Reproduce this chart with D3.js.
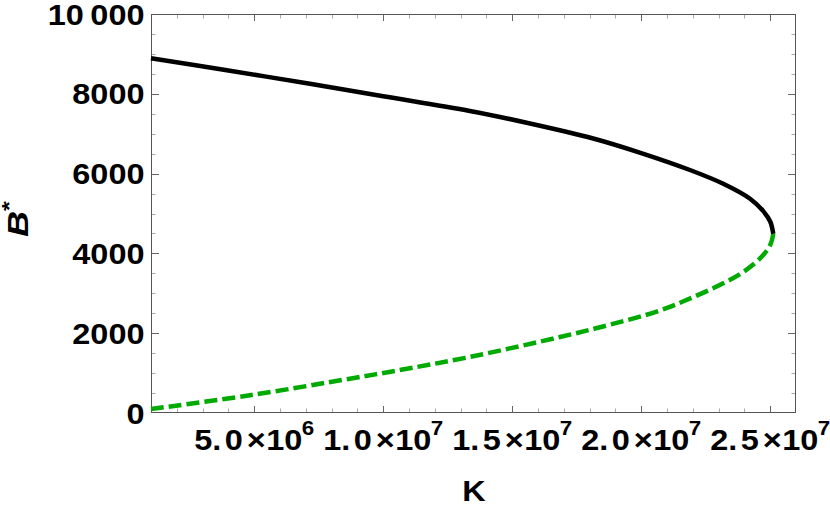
<!DOCTYPE html>
<html>
<head>
<meta charset="utf-8">
<script src="https://cdn.jsdelivr.net/npm/d3@7"></script>
<style>
  html, body { margin: 0; padding: 0; background: #fff; }
  svg { display: block; }
  text { font-family: "Liberation Sans", Arial, sans-serif; font-weight: bold; fill: #000; }
</style>
</head>
<body>
<svg id="chart" width="830" height="505"></svg>
<script>
// ---------- data ----------
// Upper (stable) branch: K values and equilibrium B*
const upperK = [1.0e6, 4.0e6, 7.16e6, 10.0e6, 13.36e6, 15.56e6, 18.14e6, 20.0e6, 21.89e6, 23.18e6, 24.22e6, 24.73e6, 25.0e6, 25.12e6];
const upperB = [8890, 8585, 8250, 7940, 7570, 7275, 6880, 6515, 6090, 5745, 5370, 5060, 4800, 4490];
// Lower (unstable) branch, from the fold point back to small K
const lowerK = [25.12e6, 25.0e6, 24.73e6, 24.34e6, 23.83e6, 23.18e6, 22.0e6, 20.73e6, 18.8e6, 16.85e6, 13.36e6, 10.5e6, 8.71e6, 4.84e6, 1.0e6];
const lowerB = [4490, 4210, 3960, 3720, 3480, 3250, 2900, 2570, 2215, 1905, 1405, 1060, 860, 445, 100];

const xMajorTicks = [5e6, 1e7, 1.5e7, 2e7, 2.5e7];
const xMinorTicks = d3.range(2e6, 2.6e7, 1e6);
const yMajorTicks = [0, 2000, 4000, 6000, 8000, 10000];
const yTickLabels = ["0", "2000", "4000", "6000", "8000", "10\u2009000"];
const yMinorTicks = d3.range(0, 10001, 500);
const xTitle = "K";
const yTitle = "B";
const yTitleSup = "*";

// ---------- layout ----------
const L = 151, R = 796, T = 14, B = 413;
const svg = d3.select("#chart");

const x = d3.scaleLinear().domain([1e6, 2.6e7]).range([L, R]);
const y = d3.scaleLinear().domain([0, 10000]).range([B, T]);

// ---------- frame & ticks ----------
const tickG = svg.append("g");
function tickLine(x1, y1, x2, y2, col) {
  tickG.append("line").attr("x1", x1).attr("y1", y1).attr("x2", x2).attr("y2", y2)
    .attr("stroke", col).attr("stroke-width", 1);
}
xMinorTicks.forEach(v => {
  const isMajor = xMajorTicks.some(m => Math.abs(m - v) < 1);
  const len = isMajor ? 7 : 4.5;
  const col = isMajor ? "#666" : "#aaa";
  const px = Math.round(x(v)) + 0.5;
  tickLine(px, B, px, B - len, col);
  tickLine(px, T, px, T + len, col);
});
yMinorTicks.forEach(v => {
  if (v === 0 || v === 10000) return;
  const isMajor = yMajorTicks.includes(v);
  const len = isMajor ? 8 : 4.5;
  const col = isMajor ? "#666" : "#aaa";
  const py = Math.round(y(v)) + 0.5;
  tickLine(L, py, L + len, py, col);
  tickLine(R, py, R - len, py, col);
});
svg.append("rect").attr("x", L + 0.5).attr("y", T + 0.5)
  .attr("width", R - L - 1).attr("height", B - T - 1)
  .attr("fill", "none").attr("stroke", "#555").attr("stroke-width", 1);

// ---------- curves ----------
const line = d3.line().x(d => x(d[0])).y(d => y(d[1])).curve(d3.curveCatmullRom.alpha(0.5));
const upper = upperK.map((k, i) => [k, upperB[i]]);
const lower = lowerK.map((k, i) => [k, lowerB[i]]);

svg.append("path").attr("d", line(lower))
  .attr("fill", "none").attr("stroke", "rgb(0,170,0)").attr("stroke-width", 4.5)
  .attr("stroke-dasharray", "13,5");
svg.append("path").attr("d", line(upper))
  .attr("fill", "none").attr("stroke", "#000").attr("stroke-width", 4.5)
  .attr("stroke-linecap", "butt");

// ---------- y tick labels ----------
yMajorTicks.forEach((v, i) => {
  svg.append("g").attr("transform", `translate(144.5, ${y(v) + 10.5}) scale(1.12,1)`)
    .append("text").attr("text-anchor", "end").attr("font-size", 29).text(yTickLabels[i]);
});

// ---------- x tick labels (mantissa × 10^exp) ----------
xMajorTicks.forEach(v => {
  const e = Math.floor(Math.log10(v) + 1e-9);
  const m = (v / Math.pow(10, e)).toFixed(1);
  const [ip, fp] = m.split(".");
  const t = svg.append("g").attr("transform", `translate(${x(v)}, 450) scale(1.12,1)`)
    .append("text").attr("text-anchor", "middle").attr("font-size", 29);
  t.append("tspan").text(ip + ".");
  t.append("tspan").attr("dx", 3).text(fp);
  t.append("tspan").attr("dx", 3.5).text("\u00d7");
  t.append("tspan").attr("dx", 0.5).text("10");
  t.append("tspan").attr("dx", -0.5).attr("dy", -15).attr("font-size", 20).text(e);
});

// ---------- axis titles ----------
svg.append("g").attr("transform", "translate(474, 501) scale(1.08,1)")
  .append("text").attr("text-anchor", "middle").attr("font-size", 30).text(xTitle);

const yt = svg.append("g").attr("transform", "translate(27.5, 219) rotate(-90) scale(1.2,1)")
  .append("text").attr("text-anchor", "middle").attr("font-size", 30);
yt.append("tspan").attr("font-style", "italic").text(yTitle);
yt.append("tspan").attr("dy", -12).attr("dx", 0).attr("font-size", 21).text(yTitleSup);
</script>
</body>
</html>
